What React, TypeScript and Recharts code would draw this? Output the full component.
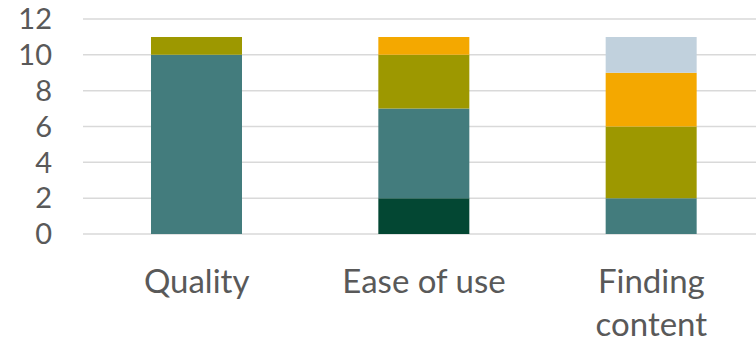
import React from "react";
import { BarChart, Bar, XAxis, YAxis, CartesianGrid } from "recharts";

const categories = ["Quality", "Ease of use", "Finding content"];
const darkGreen = [0, 2, 0];
const teal = [10, 5, 2];
const olive = [1, 3, 4];
const orange = [0, 1, 3];
const lightBlue = [0, 0, 2];
const yTicks = [0, 2, 4, 6, 8, 10, 12];

const data = categories.map((name, i) => ({
  name,
  darkGreen: darkGreen[i],
  teal: teal[i],
  olive: olive[i],
  orange: orange[i],
  lightBlue: lightBlue[i],
}));

const FONT = "Lato, 'Open Sans', sans-serif";
const TEXT = "#595959";

// category labels wrap onto two lines when they are long
function CategoryTick(props: any) {
  const { x, y, payload } = props;
  const words: string[] = String(payload.value).split(" ");
  const lines = payload.value === "Finding content" ? words : [payload.value];
  return (
    <text
      x={x}
      y={y}
      textAnchor="middle"
      fill={TEXT}
      fontSize={33}
      fontFamily={FONT}
    >
      {lines.map((l, i) => (
        <tspan key={i} x={x} dy={i === 0 ? 51 : 43}>
          {l}
        </tspan>
      ))}
    </text>
  );
}

export default function App() {
  return (
    <div
      style={{
        position: "absolute",
        left: 0,
        top: 0,
        width: 756,
        height: 343,
        overflow: "hidden",
        background: "#fff",
      }}
    >
      <BarChart
        width={770}
        height={343}
        data={data}
        margin={{ top: 19, right: 5, bottom: 0, left: 0 }}
      >
        <CartesianGrid
          vertical={false}
          stroke="#d9d9d9"
          strokeWidth={1.5}
        />
        <XAxis
          dataKey="name"
          axisLine={false}
          tickLine={false}
          height={109}
          interval={0}
          tick={<CategoryTick />}
        />
        <YAxis
          domain={[0, 12]}
          ticks={yTicks}
          interval={0}
          width={83}
          axisLine={false}
          tickLine={false}
          tickSize={0}
          tickMargin={31}
          tick={{ fill: TEXT, fontSize: 29, fontFamily: FONT }}
        />
        <Bar dataKey="darkGreen" stackId="a" fill="#034733" barSize={91} isAnimationActive={false} />
        <Bar dataKey="teal" stackId="a" fill="#437c7d" barSize={91} isAnimationActive={false} />
        <Bar dataKey="olive" stackId="a" fill="#9d9800" barSize={91} isAnimationActive={false} />
        <Bar dataKey="orange" stackId="a" fill="#f4a800" barSize={91} isAnimationActive={false} />
        <Bar dataKey="lightBlue" stackId="a" fill="#c1d1dd" barSize={91} isAnimationActive={false} />
      </BarChart>
    </div>
  );
}
